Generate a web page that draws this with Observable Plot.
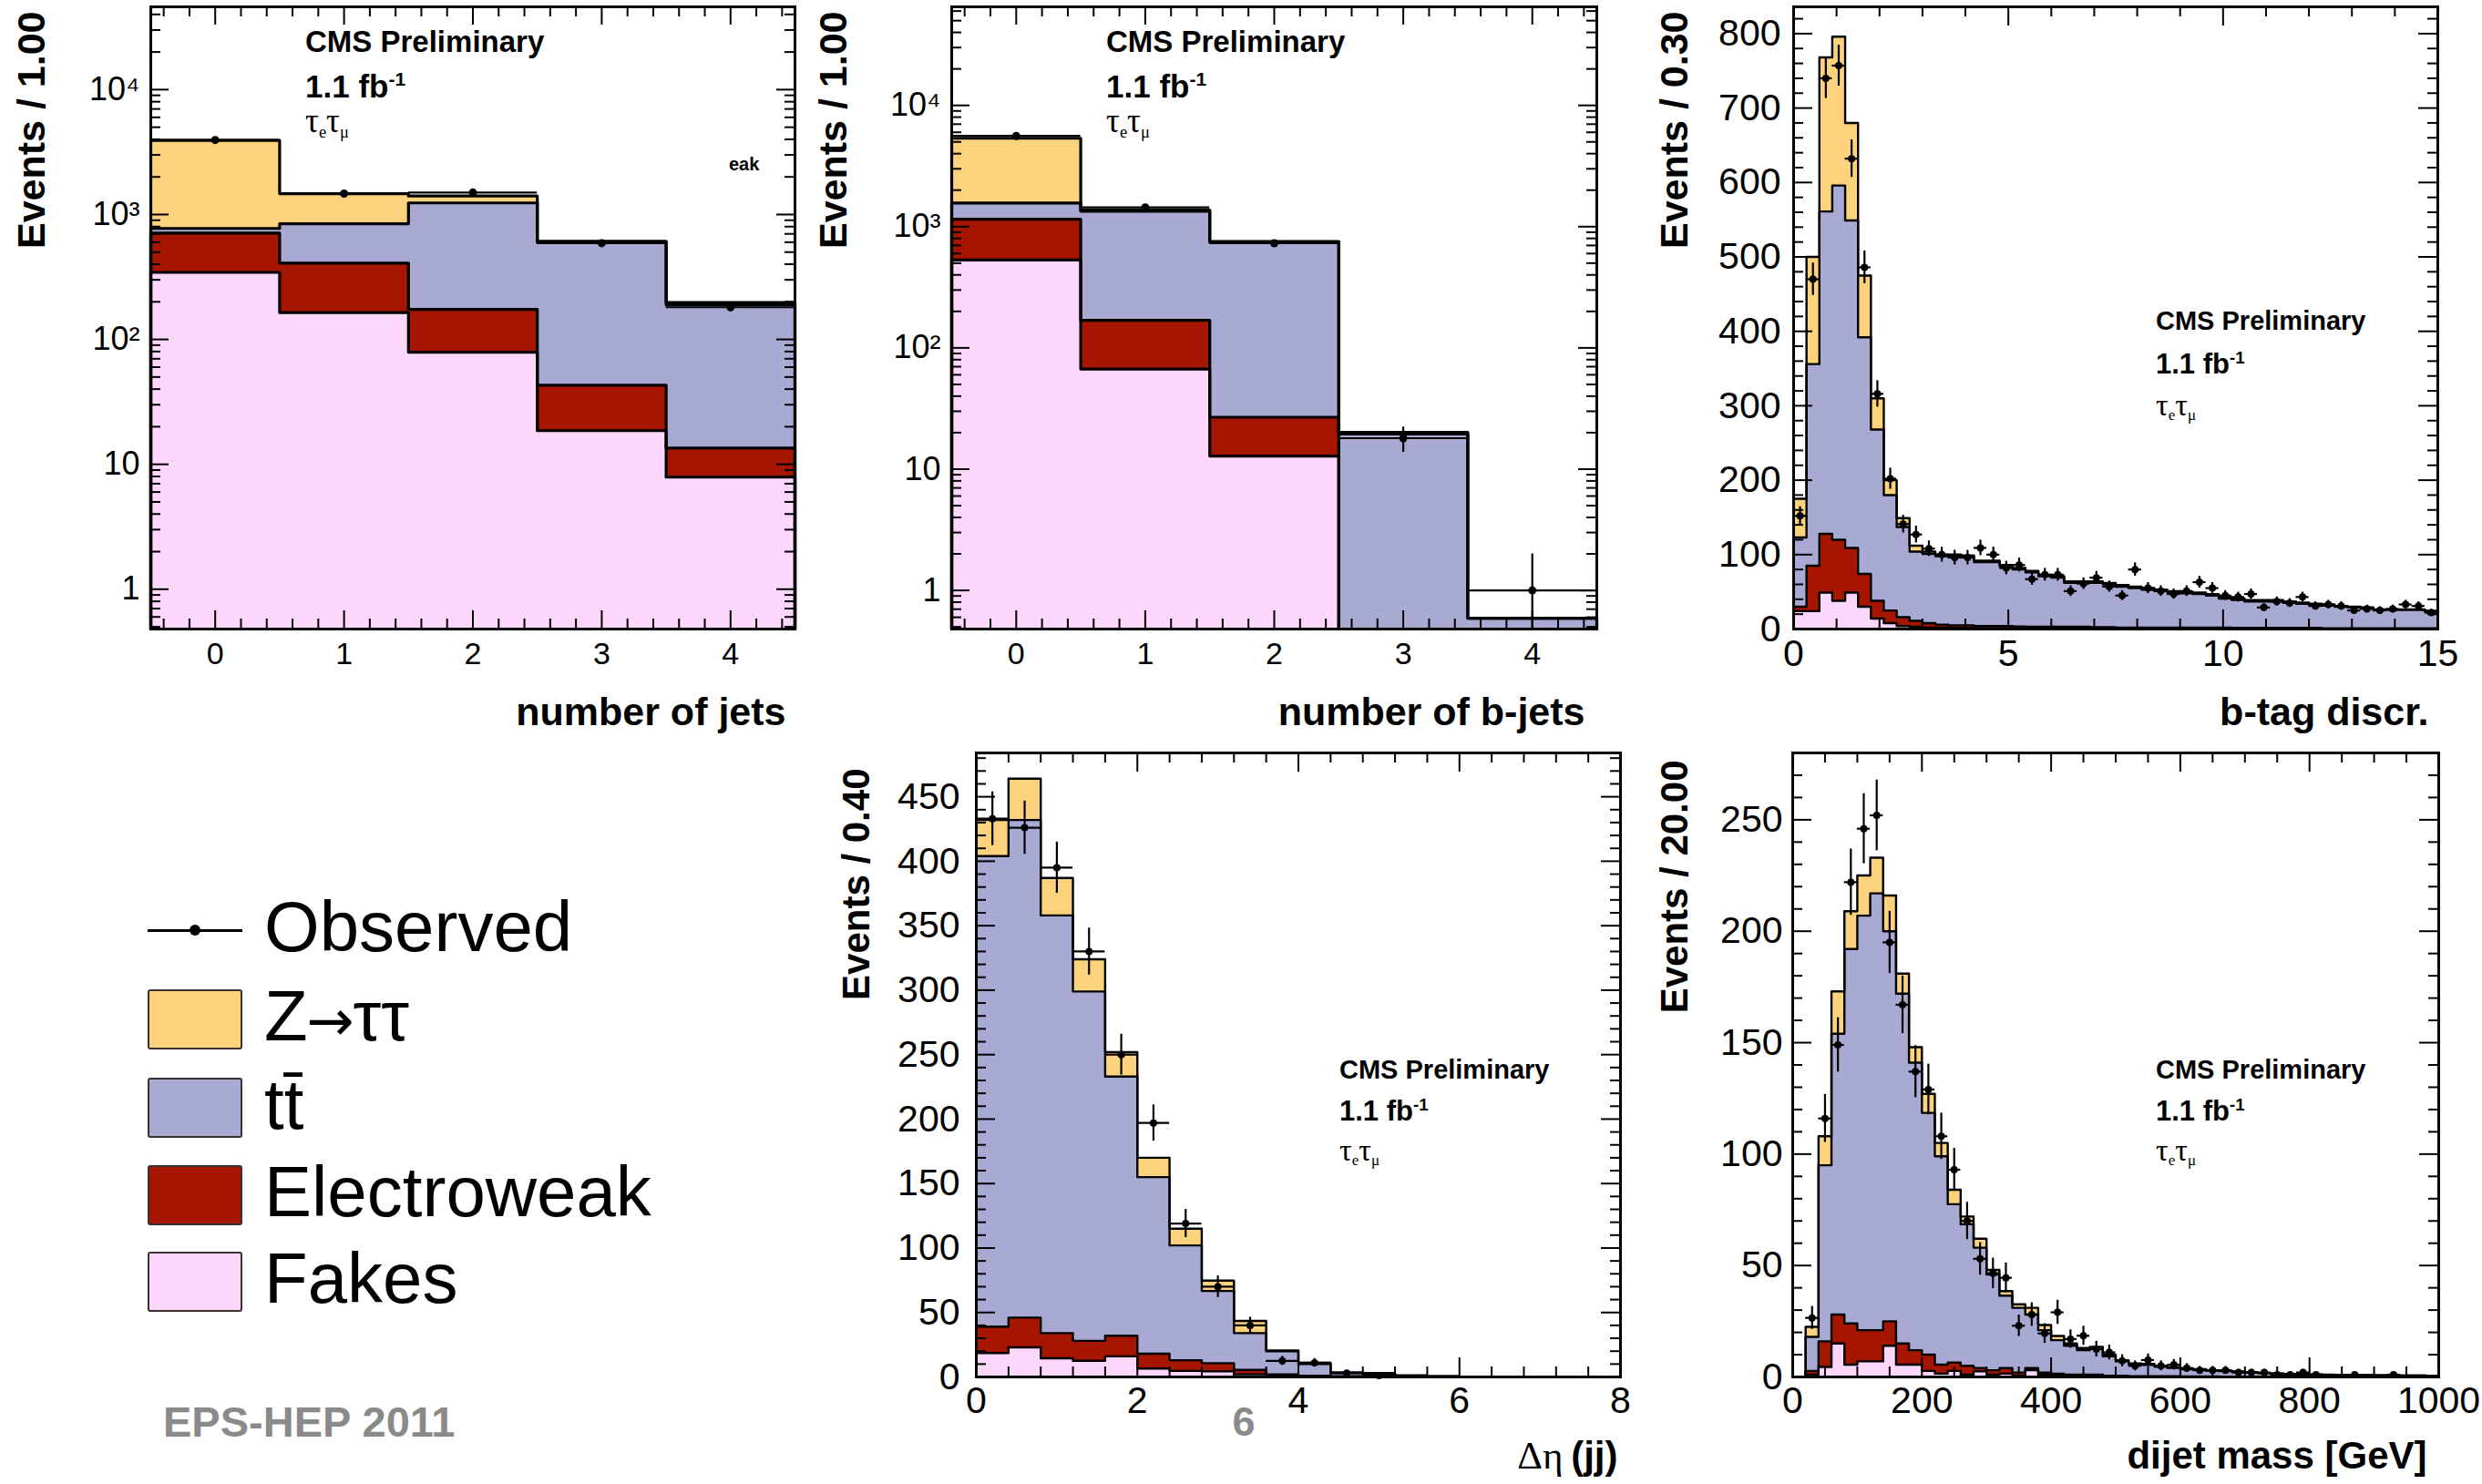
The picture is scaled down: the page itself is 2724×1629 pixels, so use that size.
<!DOCTYPE html>
<html>
<head>
<meta charset="utf-8">
<script src="https://cdn.jsdelivr.net/npm/d3@7"></script>
<script src="https://cdn.jsdelivr.net/npm/@observablehq/plot@0.6"></script>
<style>
html,body{margin:0;padding:0;background:#fff;}
#page{position:relative;width:2724px;height:1629px;overflow:hidden;background:#fff;font-family:"Liberation Sans",Arial,Helvetica,sans-serif;color:#000;}
.note{position:absolute;white-space:nowrap;line-height:1;}
.sup{font-size:0.6em;vertical-align:0.6em;line-height:0;}
.sub{font-size:0.5em;vertical-align:-0.3em;line-height:0;}
.tau{font-family:"Liberation Serif","DejaVu Serif",serif;}
.arr{font-family:"DejaVu Sans",sans-serif;font-size:0.8em;margin:0 -0.02em;}
</style>
</head>
<body>
<div id="page"></div>
<script>
// ---------------- series (stack order: bottom -> top) ----------------
const seriesNames  = ["Fakes", "Electroweak", "tt\u0304", "Z\u2192\u03c4\u03c4"];
const seriesColors = ["#fcd6fb", "#a61500", "#a9aad4", "#fdd27c"];

// ---------------- panel 1 : number of jets ----------------
const njetsBins  = [0, 1, 2, 3, 4];
const njetsFakes = [344, 164, 79, 18.6, 7.9];
const njetsEW    = [365, 244, 95, 24.4, 5.6];
const njetsTT    = [65, 436, 1064, 557, 176];
const njetsZ     = [3142, 624, 168, 10, 8];
const njetsObs   = [3950, 1470, 1500, 590, 181];

// ---------------- panel 2 : number of b-jets ----------------
const nbjetsBins  = [0, 1, 2, 3, 4];
const nbjetsFakes = [531, 67, 12.8, 0, 0];
const nbjetsEW    = [620, 102, 14, 0, 0];
const nbjetsTT    = [415, 1171, 720, 19.5, 0.59];
const nbjetsZ     = [3794, 32, 8, 0.6, 0];
const nbjetsObs   = [5600, 1440, 730, 18, 1];

// ---------------- panel 3 : b-tag discriminator (bin width 0.3) ----------------
const btagFakes = [24, 24, 49, 38, 49, 30, 14, 8, 4, 3,
                   2, 2, 1.5, 1.5, 1, 1, 1, 1, 1, 1,
                   1, 1, 1, 1, 0.5, 0.5, 0.5, 0.5, 0.5, 0.5,
                   0.5, 0.5, 0.5, 0.5, 0.5, 0.5, 0.5, 0.5, 0.5, 0.5,
                   0.5, 0.5, 0.5, 0.5, 0.5, 0.5, 0.5, 0.5, 0.5, 0.5];
const btagEW    = [6, 61, 79, 82, 60, 44, 24, 17, 12, 8,
                   6, 4, 3.5, 3.5, 3, 3, 3, 2.5, 2, 2,
                   2, 2, 2, 1.5, 2, 1.5, 1.5, 1.5, 1.5, 1.5,
                   1.5, 1.5, 1.5, 1.5, 1, 1, 1, 1, 1, 1,
                   1, 0.5, 0.5, 0.5, 0.5, 0.5, 0.5, 0.5, 0.5, 0.5];
const btagTT    = [93, 271, 433, 476, 440, 318, 230, 155, 121, 93,
                   93, 92, 93, 92, 86, 86, 80, 76.5, 73, 68,
                   66, 59, 59, 59.5, 57.5, 55, 53, 51, 49, 47,
                   46, 45, 43, 39, 37.5, 35.5, 35.5, 35.5, 33.5, 32.5,
                   31, 30.5, 29, 28, 27, 24.5, 24.5, 24.5, 24.5, 22.5];
const btagZ     = [52, 144, 207, 200, 131, 83, 42, 20, 12, 8,
                   3, 2, 2, 2, 2, 2, 2, 2, 2, 2,
                   2, 2, 2, 2, 2, 2, 2, 2, 2, 2,
                   2, 2, 2, 2, 2, 2, 2, 2, 2, 1.5,
                   1.5, 1.5, 1, 1, 1, 1, 1, 1, 1, 1];
const btagObs   = [152, 470, 740, 757, 632, 486, 316, 202, 141, 127,
                   108, 100, 96, 96, 109, 100, 82, 86, 67, 73,
                   73, 51, 61, 69, 57, 45, 80, 55, 51, 47,
                   51, 63, 55, 45, 43, 47, 29, 37, 35, 43,
                   31, 33, 31, 25, 27, 25, 27, 33, 31, 22];

// ---------------- panel 4 : delta eta (jj) (bin width 0.4) ----------------
const detaFakes = [18.5, 23, 14.5, 12.5, 16, 6.5, 4.7, 4.3, 2, 1, 0.5, 0.2, 0.1, 0.1, 0, 0, 0, 0, 0, 0];
const detaEW    = [20.5, 23, 19.5, 15.5, 16, 11.5, 8.3, 6.4, 3.5, 1, 0.5, 0.3, 0.2, 0.1, 0, 0, 0, 0, 0, 0];
const detaTT    = [365, 386, 324, 271, 201, 137, 89, 56, 28.5, 18, 9, 2.5, 2.2, 0.8, 0.5, 0.3, 0, 0, 0, 0];
const detaZ     = [28, 32, 29, 25, 19, 15, 13, 8, 9.5, 0.6, 1, 0.5, 0.5, 0.2, 0.1, 0, 0, 0, 0, 0];
const detaObs   = [433, 426, 395, 330, 250, 197, 119, 70, 40, 12.5, 11, 3, 1, null, null, null, null, null, null, null];

// ---------------- panel 5 : dijet mass (bin width 20 GeV) ----------------
const mjjFakes = [0, 1, 4.5, 15, 5.5, 7, 7, 14, 5.5, 5.5,
                  2.7, 1.5, 2.7, 1, 2.5, 1, 1.5, 0.5, 3, 1,
                  0.5, 0.3, 0, 0, 0, 0, 0, 0, 0, 0,
                  0, 0, 0, 0, 0, 0, 0, 0, 0, 0,
                  0, 0, 0, 0, 0, 0, 0, 0, 0, 0];
const mjjEW    = [0, 1.7, 11.5, 13, 18.5, 14, 14, 11, 9.5, 6.5,
                  7.3, 4, 3.8, 4, 1.5, 2, 2.5, 1.5, 1, 1,
                  1, 0.7, 1, 1, 0.5, 0.5, 0.3, 0.3, 0.3, 0.3,
                  0.2, 0.2, 0.2, 0.1, 0.1, 0.1, 0.1, 0.1, 0, 0,
                  0, 0, 0, 0, 0, 0, 0, 0, 0, 0];
const mjjTT    = [0, 15.3, 79, 126, 168, 186, 196, 175, 157, 129,
                  108.5, 93.5, 71, 63.5, 54, 43, 32.5, 29, 24, 19,
                  15, 13, 11, 11.5, 8.8, 6.5, 5.3, 5.1, 4.3, 3.8,
                  3.3, 3.0, 2.6, 2.5, 2.2, 1.9, 1.6, 1.4, 1.3, 1.1,
                  1.0, 0.9, 0.9, 0.8, 0.8, 0.7, 0.7, 0.6, 0.6, 0.5];
const mjjZ     = [0, 4.5, 13, 19, 17, 18, 16, 16, 9, 7,
                  8.5, 6, 6.5, 3.5, 4, 2, 2, 1.6, 3, 2.3,
                  1.9, 1, 1, 1, 0.7, 0.5, 0.4, 0.4, 0.4, 0.3,
                  0.3, 0.3, 0.2, 0.2, 0.2, 0.1, 0.1, 0.1, 0.1, 0.1,
                  0.1, 0.1, 0, 0, 0, 0, 0, 0, 0, 0];
const mjjObs   = [null, 26.5, 116, 149, 222, 246, 252, 195, 167, 137,
                  129, 108, 93, 70, 53, 46.5, 44.5, 23, 28, 19.5,
                  29, 17, 18.5, 12.5, 11, 7.3, 5, 7.6, 5, 5.5,
                  4, 3, 3, 3, 2, 2, 2, 1, 1, 2,
                  1, null, null, 1, null, null, 1, null, null, null];

// ---------------- tick values and labels ----------------
const countMajor  = [0, 1, 2, 3, 4];
const countMinor  = d3.range(-4, 45, 2).map(v => v / 10).filter(v => !Number.isInteger(v));
const logMajor    = [1, 10, 100, 1000, 10000];
const logLabels   = ["1", "10", "10\u00b2", "10\u00b3", "10\u2074"];
const logMinorAll = d3.range(-1, 5).flatMap(e => d3.range(2, 10).map(m => m * 10 ** e));

const btagXMajor = [0, 5, 10, 15];
const btagXMinor = d3.range(1, 15).filter(v => v % 5 !== 0);
const btagYMajor = d3.range(0, 801, 100);
const btagYMinor = d3.range(20, 836, 20).filter(v => v % 100 !== 0);

const detaXMajor = [0, 2, 4, 6, 8];
const detaXMinor = d3.range(1, 20).filter(i => i % 5 !== 0).map(i => +(i * 0.4).toFixed(1));
const detaYMajor = d3.range(0, 451, 50);
const detaYMinor = d3.range(10, 484, 10).filter(v => v % 50 !== 0);

const mjjXMajor = [0, 200, 400, 600, 800, 1000];
const mjjXMinor = d3.range(50, 1000, 50).filter(v => v % 200 !== 0);
const mjjYMajor = [0, 50, 100, 150, 200, 250];
const mjjYMinor = d3.range(10, 280, 10).filter(v => v % 50 !== 0);

// ---------------- helpers ----------------
const FONT = "'Liberation Sans', Arial, Helvetica, sans-serif";
const page = document.getElementById("page");
const centersToEdges = c => [...c.map(v => v - 0.5), c[c.length - 1] + 0.5];
const uniformEdges = (n, w) => d3.range(n + 1).map(i => +(i * w).toFixed(4));

function panel(o) {
  const W = o.width, H = o.height;
  const mL = o.frame.x0 - o.left, mR = o.left + W - o.frame.x1;
  const mT = o.frame.y0 - o.top,  mB = o.top + H - o.frame.y1;
  const fw = o.frame.x1 - o.frame.x0, fh = o.frame.y1 - o.frame.y0;
  const e = o.edges, n = e.length - 1;
  const base = o.log ? o.yDomain[0] : 0;
  const cl = v => Math.max(v, base);

  // cumulative stacked layers
  let run = new Array(n).fill(0);
  const layers = [];
  o.comps.forEach((vals, k) => {
    const lo = run, hi = run.map((v, i) => v + (vals[i] || 0));
    run = hi;
    const pts = [];
    for (let i = 0; i < n; i++) pts.push({x: e[i], lo: cl(lo[i]), hi: cl(hi[i]), k});
    pts.push({x: e[n], lo: cl(lo[n - 1]), hi: cl(hi[n - 1]), k});
    const line = [{x: e[0], y: base, k}];
    for (let i = 0; i < n; i++) line.push({x: e[i], y: cl(hi[i]), k});
    line.push({x: e[n], y: cl(hi[n - 1]), k});
    line.push({x: e[n], y: base, k});
    layers.push({pts, line, k});
  });

  const obs = o.obs.map((v, i) => v == null ? null : {
    x: (e[i] + e[i + 1]) / 2, x1: e[i], x2: e[i + 1], y: v,
    lo: cl(v - Math.sqrt(v)), hi: v + Math.sqrt(v)
  }).filter(Boolean);

  const inX = v => v >= o.xDomain[0] && v <= o.xDomain[1];
  const inY = v => v >= o.yDomain[0] && v <= o.yDomain[1];
  const xMaj = o.xMajor.filter(inX), xMin = o.xMinor.filter(inX);
  const yMaj = o.yMajor.filter(inY), yMin = o.yMinor.filter(inY);
  const tk = {stroke: "black", strokeWidth: 2};
  const ML = o.majorLen, NL = o.minorLen;

  const titleMarks = o.xTitleParts.map(p => Plot.text([p.text], {text: d => d, frameAnchor: "bottom-right",
    dx: p.right - o.frame.x1, dy: o.xTitleY - o.frame.y1, textAnchor: "end", lineAnchor: "middle",
    fontSize: p.size || o.titleFont, fontWeight: p.weight || "bold", fontFamily: p.family || FONT, fill: "black"}));

  const marks = [
    ...layers.map(L => Plot.areaY(L.pts, {x: "x", y1: "lo", y2: "hi", curve: "step-after", fill: seriesColors[L.k]})),
    ...layers.map(L => Plot.line(L.line, {x: "x", y: "y", curve: "step-after", stroke: "black", strokeWidth: o.lineW})),
    Plot.ruleX(xMaj, {x: d => d, insetTop: fh - ML, ...tk}),
    Plot.ruleX(xMaj, {x: d => d, insetBottom: fh - ML, ...tk}),
    Plot.ruleX(xMin, {x: d => d, insetTop: fh - NL, ...tk}),
    Plot.ruleX(xMin, {x: d => d, insetBottom: fh - NL, ...tk}),
    Plot.ruleY(yMaj, {y: d => d, insetRight: fw - ML, ...tk}),
    Plot.ruleY(yMaj, {y: d => d, insetLeft: fw - ML, ...tk}),
    Plot.ruleY(yMin, {y: d => d, insetRight: fw - NL, ...tk}),
    Plot.ruleY(yMin, {y: d => d, insetLeft: fw - NL, ...tk}),
    Plot.ruleX(obs, {x: "x", y1: "lo", y2: "hi", stroke: "black", strokeWidth: o.obsW}),
    Plot.ruleY(obs, {y: "y", x1: "x1", x2: "x2", stroke: "black", strokeWidth: o.obsW}),
    Plot.dot(obs, {x: "x", y: "y", r: o.dotR, fill: "black", stroke: "none"}),
    Plot.frame({stroke: "black", strokeWidth: 3}),
    Plot.axisX({ticks: xMaj, tickSize: 0, tickPadding: o.xPad, fontSize: o.tickFont, tickFormat: o.xFmt, label: null}),
    Plot.axisY({ticks: yMaj, tickSize: 0, tickPadding: o.yPad, fontSize: o.yTickFont || o.tickFont, tickFormat: o.yFmt, label: null}),
    Plot.text([o.yTitle], {text: d => d, frameAnchor: "top-left", dx: o.yTitlePos[0] - o.frame.x0, dy: o.yTitlePos[1] - o.frame.y0,
      rotate: -90, textAnchor: "end", lineAnchor: "middle", fontSize: o.titleFont, fontWeight: "bold", fill: "black"}),
    ...titleMarks
  ];

  const svg = Plot.plot({
    width: W, height: H, marginLeft: mL, marginRight: mR, marginTop: mT, marginBottom: mB,
    x: {domain: o.xDomain, label: null},
    y: {type: o.log ? "log" : "linear", domain: o.yDomain, label: null},
    style: {fontFamily: FONT, background: "transparent", overflow: "visible", maxWidth: "none", color: "black"},
    marks
  });
  const wrap = document.createElement("div");
  Object.assign(wrap.style, {position: "absolute", left: o.left + "px", top: o.top + "px", width: W + "px", height: H + "px"});
  wrap.appendChild(svg);
  page.appendChild(wrap);
}

function note(x, y, html, size, weight, color, anchor) {
  const d = document.createElement("div");
  d.className = "note";
  d.innerHTML = html;
  Object.assign(d.style, {left: x + "px", top: (y - 0.55 * size) + "px", fontSize: size + "px",
    fontWeight: weight || "normal", color: color || "#000"});
  if (anchor === "middle") d.style.transform = "translateX(-50%)";
  page.appendChild(d);
}

function cmsLabel(x, yc, big) {
  const s = big ? [33, 35, 37] : [29, 31, 34];
  note(x, yc[0], "CMS Preliminary", s[0], "bold");
  note(x, yc[1], '1.1 fb<span class="sup">-1</span>', s[1], "bold");
  note(x, yc[2], '<span class="tau">\u03c4<span class="sub">e</span>\u03c4<span class="sub">\u03bc</span></span>', s[2], "normal");
}

const logFmt = d => logLabels[logMajor.indexOf(d)];
const numFmt = d => String(d);

// ---------------- panels ----------------
panel({left: 0, top: 0, width: 900, height: 800, frame: {x0: 165, x1: 872, y0: 7, y1: 690},
  edges: centersToEdges(njetsBins), comps: [njetsFakes, njetsEW, njetsTT, njetsZ], obs: njetsObs,
  log: true, xDomain: [-0.5, 4.5], yDomain: [0.48, 46000],
  xMajor: countMajor, xMinor: countMinor, yMajor: logMajor, yMinor: logMinorAll, xFmt: numFmt, yFmt: logFmt,
  majorLen: 20, minorLen: 11, lineW: 3.2, obsW: 2.2, dotR: 4.5, tickFont: 34, yTickFont: 36, xPad: 14, yPad: 12,
  titleFont: 43, yTitle: "Events / 1.00", yTitlePos: [35, 12],
  xTitleParts: [{text: "number of jets", right: 862}], xTitleY: 782});

panel({left: 880, top: 0, width: 900, height: 800, frame: {x0: 1044, x1: 1752, y0: 7, y1: 690},
  edges: centersToEdges(nbjetsBins), comps: [nbjetsFakes, nbjetsEW, nbjetsTT, nbjetsZ], obs: nbjetsObs,
  log: true, xDomain: [-0.5, 4.5], yDomain: [0.48, 65000],
  xMajor: countMajor, xMinor: countMinor, yMajor: logMajor, yMinor: logMinorAll, xFmt: numFmt, yFmt: logFmt,
  majorLen: 20, minorLen: 11, lineW: 3.2, obsW: 2.2, dotR: 4.5, tickFont: 34, yTickFont: 36, xPad: 14, yPad: 12,
  titleFont: 43, yTitle: "Events / 1.00", yTitlePos: [915, 12],
  xTitleParts: [{text: "number of b-jets", right: 1739}], xTitleY: 782});

panel({left: 1780, top: 0, width: 944, height: 800, frame: {x0: 1968, x1: 2675, y0: 7, y1: 690},
  edges: uniformEdges(50, 0.3), comps: [btagFakes, btagEW, btagTT, btagZ], obs: btagObs,
  log: false, xDomain: [0, 15], yDomain: [0, 836],
  xMajor: btagXMajor, xMinor: btagXMinor, yMajor: btagYMajor, yMinor: btagYMinor, xFmt: numFmt, yFmt: numFmt,
  majorLen: 21, minorLen: 11, lineW: 2.4, obsW: 2.2, dotR: 4, tickFont: 41, xPad: 11, yPad: 14,
  titleFont: 43, yTitle: "Events / 0.30", yTitlePos: [1838, 12],
  xTitleParts: [{text: "b-tag discr.", right: 2665}], xTitleY: 782});

panel({left: 880, top: 800, width: 920, height: 829, frame: {x0: 1071, x1: 1778, y0: 826, y1: 1511},
  edges: uniformEdges(20, 0.4), comps: [detaFakes, detaEW, detaTT, detaZ], obs: detaObs,
  log: false, xDomain: [0, 8], yDomain: [0, 484],
  xMajor: detaXMajor, xMinor: detaXMinor, yMajor: detaYMajor, yMinor: detaYMinor, xFmt: numFmt, yFmt: numFmt,
  majorLen: 21, minorLen: 11, lineW: 2.4, obsW: 2.2, dotR: 4, tickFont: 41, xPad: 10, yPad: 18,
  titleFont: 42, yTitle: "Events / 0.40", yTitlePos: [940, 843],
  xTitleParts: [{text: "(jj)", right: 1775}, {text: "\u0394\u03b7", right: 1715, weight: "normal", family: "'Liberation Serif', serif", size: 43}],
  xTitleY: 1598});

panel({left: 1800, top: 800, width: 924, height: 829, frame: {x0: 1967, x1: 2676, y0: 826, y1: 1511},
  edges: uniformEdges(50, 20), comps: [mjjFakes, mjjEW, mjjTT, mjjZ], obs: mjjObs,
  log: false, xDomain: [0, 1000], yDomain: [0, 280],
  xMajor: mjjXMajor, xMinor: mjjXMinor, yMajor: mjjYMajor, yMinor: mjjYMinor, xFmt: numFmt, yFmt: numFmt,
  majorLen: 21, minorLen: 11, lineW: 2.4, obsW: 2.2, dotR: 4, tickFont: 41, xPad: 10, yPad: 11,
  titleFont: 42, yTitle: "Events / 20.00", yTitlePos: [1838, 834],
  xTitleParts: [{text: "dijet mass [GeV]", right: 2663}], xTitleY: 1598});

// ---------------- in-plot annotations ----------------
cmsLabel(335, [47, 96, 134], true);
cmsLabel(1214, [47, 96, 134], true);
cmsLabel(2366, [354, 401, 446], false);
cmsLabel(1470, [1176, 1221, 1264], false);
cmsLabel(2366, [1176, 1221, 1264], false);
note(800, 181, "eak", 20, "bold");

// ---------------- legend ----------------
const legendRows = [1021, 1119, 1216, 1312, 1407];
const legendLabels = ["Observed", "Z<span class=\"arr\">\u2192</span>\u03c4\u03c4", "tt\u0304", "Electroweak", "Fakes"];
const legendItems = [{name: legendLabels[0], color: null}]
  .concat(seriesColors.map((c, i) => ({name: legendLabels[seriesColors.length - i], color: c})).reverse());
legendItems.forEach((it, i) => {
  const yc = legendRows[i];
  if (it.color === null) {
    const ln = document.createElement("div");
    Object.assign(ln.style, {position: "absolute", left: "162px", top: (yc - 1.5) + "px", width: "104px", height: "3px", background: "#000"});
    page.appendChild(ln);
    const dt = document.createElement("div");
    Object.assign(dt.style, {position: "absolute", left: "208px", top: (yc - 6) + "px", width: "12px", height: "12px", borderRadius: "50%", background: "#000"});
    page.appendChild(dt);
  } else {
    const bx = document.createElement("div");
    Object.assign(bx.style, {position: "absolute", left: "162px", top: (yc - 33) + "px", width: "100px", height: "62px",
      background: it.color, border: "2px solid #3a3030", borderRadius: "3px"});
    page.appendChild(bx);
  }
  note(290, yc, it.name, 78, "normal");
});

// ---------------- slide footer ----------------
note(179, 1563, "EPS-HEP 2011", 47, "bold", "#8a8a8a");
note(1365, 1563, "6", 45, "bold", "#8a8a8a", "middle");
</script>
</body>
</html>
